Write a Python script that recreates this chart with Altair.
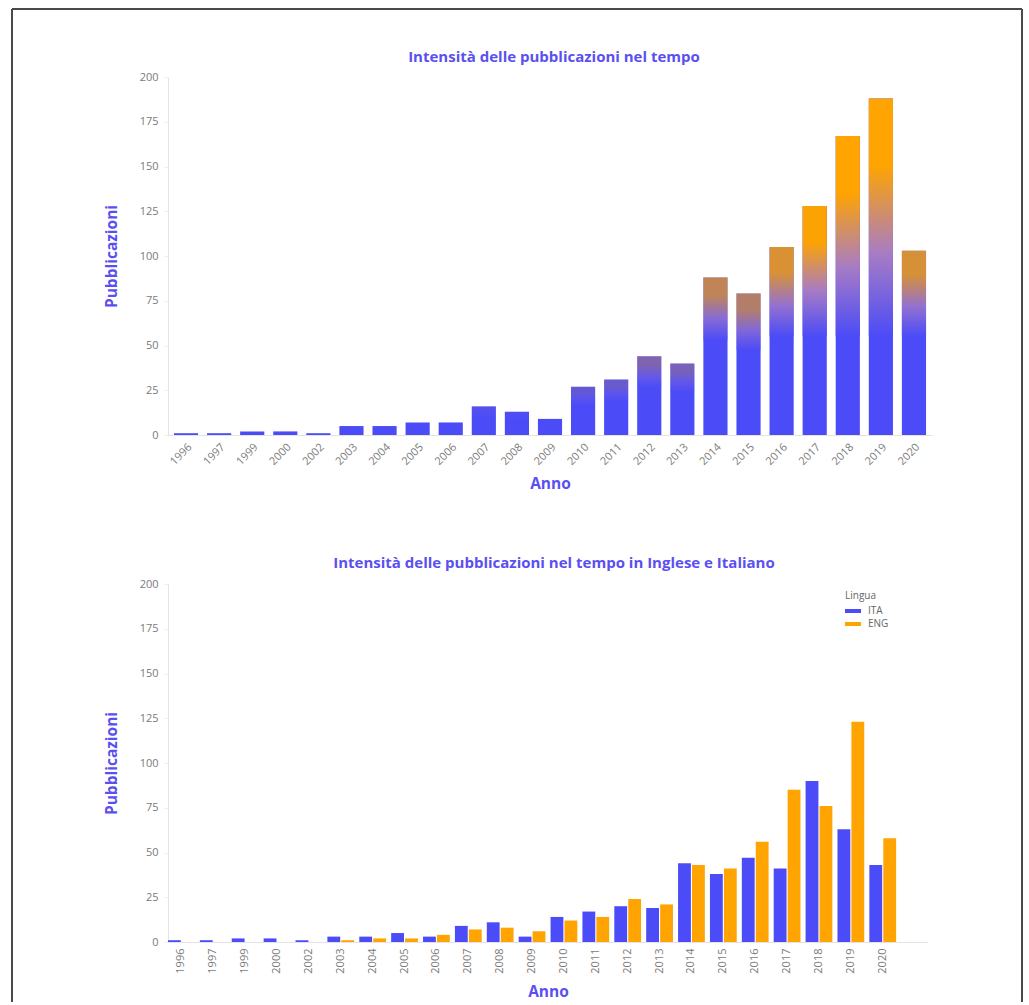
import altair as alt
import pandas as pd

years = ["1996", "1997", "1999", "2000", "2002", "2003", "2004", "2005", "2006",
         "2007", "2008", "2009", "2010", "2011", "2012", "2013", "2014", "2015",
         "2016", "2017", "2018", "2019", "2020"]
totals = [1, 1, 2, 2, 1, 5, 5, 7, 7, 16, 13, 9, 27, 31, 44, 40, 88, 79, 105, 128, 167, 188, 103]
ita = [1, 1, 2, 2, 1, 3, 3, 5, 3, 9, 11, 3, 14, 17, 20, 19, 44, 38, 47, 41, 90, 63, 43]
eng = [0, 0, 0, 0, 0, 1, 2, 2, 4, 7, 8, 6, 12, 14, 24, 21, 43, 41, 56, 85, 76, 123, 58]
languages = ["ITA", "ENG"]
y_ticks = [0, 25, 50, 75, 100, 125, 150, 175, 200]
title_top = "Intensità delle pubblicazioni nel tempo"
title_bot = "Intensità delle pubblicazioni nel tempo in Inglese e Italiano"

BLUE = "#4b4bf7"
ORANGE = "#ffa400"
TITLE_BLUE = "#5a4ff0"
LABEL = "#7a7a7a"
FONT = "Open Sans"

top_df = pd.DataFrame({"Anno": years, "Pubblicazioni": totals})
bot_df = pd.DataFrame({
    "Anno": years * 2,
    "Lingua": ["ITA"] * len(years) + ["ENG"] * len(years),
    "Pubblicazioni": ita + eng,
})
one_df = pd.DataFrame({"k": [0]})

W = 764
WB = 760
H = 358
SPACING = 149

yscale = alt.Scale(domain=[0, 200])


def yaxis():
    return alt.Axis(values=y_ticks, title="Pubblicazioni", grid=False,
                    domainColor="#e3e3e3", tickColor="#eeeeee", tickSize=4,
                    labelColor=LABEL, labelFontSize=11, labelPadding=6,
                    titleColor=TITLE_BLUE, titleFontSize=15.5, titleFontWeight="bold",
                    titlePadding=20)


xaxis_top = alt.Axis(title="Anno", labelAngle=-45, ticks=False, domainColor="#e3e3e3",
                     labelColor=LABEL, labelFontSize=11, labelPadding=6,
                     titleColor=TITLE_BLUE, titleFontSize=15.5, titleFontWeight="bold",
                     titlePadding=10)

base_top = alt.Chart(top_df).encode(
    x=alt.X("Anno:N", sort=years,
            scale=alt.Scale(domain=years, paddingInner=0.27, paddingOuter=0.18),
            axis=xaxis_top)
)

blue_bars = base_top.mark_bar(color=BLUE).encode(
    y=alt.Y("Pubblicazioni:Q", scale=yscale, axis=yaxis())
)

grad = alt.LinearGradient(
    gradient="linear", x1=0, x2=0, y1=1, y2=0,
    stops=[alt.GradientStop(offset=0, color=BLUE),
           alt.GradientStop(offset=0.35, color="#a87cc4"),
           alt.GradientStop(offset=0.72, color=ORANGE),
           alt.GradientStop(offset=1, color=ORANGE)],
)

overlay = base_top.transform_calculate(
    base="min(0.6 * datum.Pubblicazioni, 55)"
).mark_bar(color=grad).encode(
    y=alt.Y("Pubblicazioni:Q", scale=yscale, axis=yaxis()),
    y2=alt.Y2("base:Q"),
    opacity=alt.Opacity("Pubblicazioni:Q",
                        scale=alt.Scale(domain=[10, 130], range=[0, 1], clamp=True),
                        legend=None),
)

top_title = alt.Chart(one_df).mark_text(
    text=title_top, font=FONT, fontSize=15, fontWeight="bold", color=TITLE_BLUE,
    align="center", baseline="middle",
).encode(x=alt.value(386), y=alt.value(-20))

FR = "#4a4a4a"
frame_l = alt.Chart(one_df).mark_rule(color=FR, strokeWidth=2).encode(
    x=alt.value(-156), y=alt.value(-68), y2=alt.value(925))
frame_t = alt.Chart(one_df).mark_rule(color=FR, strokeWidth=2).encode(
    x=alt.value(-156), x2=alt.value(854), y=alt.value(-68))
frame_r = alt.Chart(one_df).mark_rule(color=FR, strokeWidth=2).encode(
    x=alt.value(854), y=alt.value(-68), y2=alt.value(925))

top = alt.layer(blue_bars, overlay, top_title, frame_l, frame_t, frame_r).properties(
    width=W, height=H,
)

xaxis_bot = alt.Axis(title="Anno", labelAngle=-90, ticks=False, domainColor="#e3e3e3",
                     labelColor=LABEL, labelFontSize=11, labelPadding=6,
                     titleColor=TITLE_BLUE, titleFontSize=15.5, titleFontWeight="bold",
                     titlePadding=11)

bot = alt.Chart(bot_df).mark_bar().encode(
    x=alt.X("Anno:N", scale=alt.Scale(domain=years + [""], paddingInner=0.16, paddingOuter=0.0),
            axis=xaxis_bot),
    xOffset=alt.XOffset("Lingua:N", scale=alt.Scale(domain=languages, paddingInner=0.08)),
    y=alt.Y("Pubblicazioni:Q", scale=yscale, axis=yaxis()),
    color=alt.Color("Lingua:N", scale=alt.Scale(domain=languages, range=[BLUE, ORANGE]),
                    legend=alt.Legend(title="Lingua", orient="none", legendX=677,
                                      legendY=H + SPACING + 7,
                                      symbolType="M-1,-0.25L1,-0.25L1,0.25L-1,0.25Z",
                                      symbolSize=256, symbolStrokeWidth=0,
                                      labelFontSize=10, titleFontSize=10,
                                      titleFontWeight="normal", titleColor="#666",
                                      labelColor="#666", rowPadding=0, titlePadding=2,
                                      labelOffset=7)),
).properties(
    width=WB, height=H,
    title=alt.TitleParams(title_bot, color=TITLE_BLUE, fontSize=15, fontWeight="bold",
                          font=FONT, anchor="middle", frame="group", dx=6, offset=7),
)

chart = alt.vconcat(top, bot, spacing=SPACING, bounds="flush").properties(
    padding={"left": 11, "top": 8, "right": 0, "bottom": 0},
).configure(font=FONT).configure_view(stroke=None)

chart.save("out.html", embed_options={"renderer": "svg", "actions": False})
